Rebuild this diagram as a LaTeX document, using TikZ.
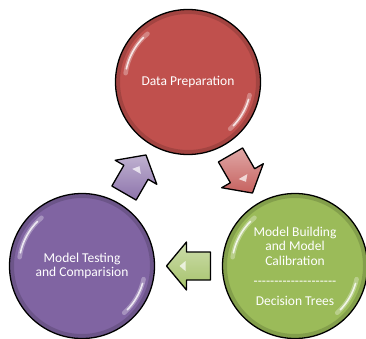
\documentclass[tikz,border=0pt]{standalone}
\usepackage{fontspec}
\setmainfont{Carlito}
\usepackage{tikz}
\usetikzlibrary{calc}

\definecolor{prepred}{HTML}{C0504D}
\definecolor{buildgreen}{HTML}{9BBB59}
\definecolor{testpurple}{HTML}{8064A2}

\tikzset{
  phase/.style={circle, draw=black, line width=1.3pt, minimum size=145pt, inner sep=0pt,
    text=white, align=center, font=\fontsize{13.5}{14.5}\selectfont,
    path picture={
      \draw[black, opacity=0.15, line width=4pt] (path picture bounding box.center) circle[radius=70pt];
      \draw[white, opacity=0.3, line width=4.5pt, line cap=round] (path picture bounding box.center) ++(130:63pt) arc[start angle=130, end angle=172, radius=63pt];
      \draw[white, opacity=0.8, line width=1.6pt, line cap=round] (path picture bounding box.center) ++(135:63pt) arc[start angle=135, end angle=168, radius=63pt];
      \draw[white, opacity=0.3, line width=4.5pt, line cap=round] (path picture bounding box.center) ++(-12:63pt) arc[start angle=-12, end angle=-48, radius=63pt];
      \draw[white, opacity=0.8, line width=1.6pt, line cap=round] (path picture bounding box.center) ++(-16:63pt) arc[start angle=-16, end angle=-44, radius=63pt];
    }},
  blockarrow/.style={draw=black, line width=1.3pt, line join=round}
}

% block arrow: position, angle, colour
\newcommand{\cyclearrow}[3]{%
  \draw[blockarrow, top color=#3!50!white, bottom color=#3!90!white, shift={(#1)}, rotate=#2]
    (-22,-14) -- (2,-14) -- (2,-24) -- (22,0) -- (2,24) -- (2,14) -- (-22,14) -- cycle;
  \fill[white, opacity=0.7, shift={(#1)}, rotate=#2] (3,-5) -- (9,0) -- (3,5) -- cycle;}

\newcommand{\dashrow}{\foreach \i in {1,...,20}{-\kern0pt}}

\begin{document}
\begin{tikzpicture}[x=1pt, y=1pt]
\useasboundingbox (0,0) rectangle (366,338);

\begin{scope}
    \node[phase, fill=prepred] (prep) at (188,256) {Data Preparation};
    \node[phase, fill=buildgreen] (build) at (295,72)
        {Model Building\\and Model\\Calibration\\[6pt]\dashrow\\[5pt]Decision Trees};
    \node[phase, fill=testpurple] (test) at (82,72) {Model Testing\\and Comparision};
\end{scope}

\coordinate (pb) at ($(prep)!0.5!(build)$);
\coordinate (bt) at ($(build)!0.5!(test)$);
\coordinate (tp) at ($(test)!0.5!(prep)$);

\begin{scope}
    \cyclearrow{pb}{-60}{prepred}
    \cyclearrow{bt}{180}{buildgreen}
    \cyclearrow{tp}{60}{testpurple}
\end{scope}
\end{tikzpicture}
\end{document}
